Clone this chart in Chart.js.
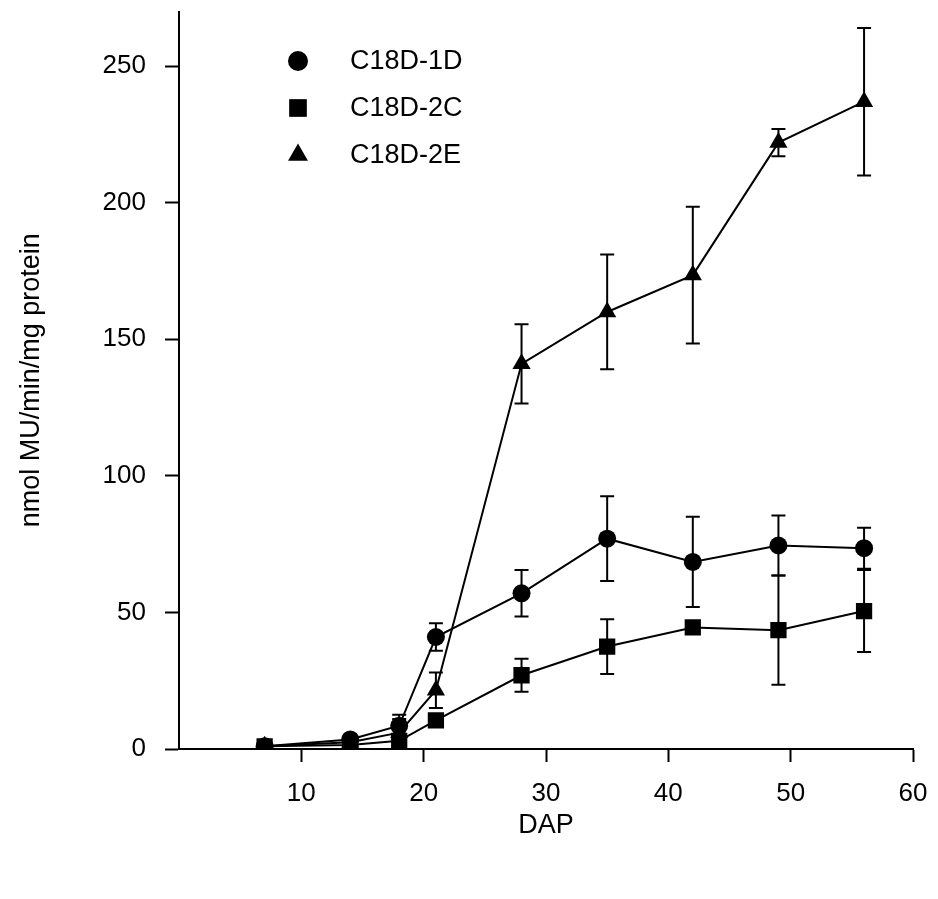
<!DOCTYPE html>
<html>
<head>
<meta charset="utf-8">
<script src="https://cdn.jsdelivr.net/npm/chart.js@4.4.1/dist/chart.umd.min.js"></script>
<style>
  html, body { margin: 0; padding: 0; background: #fff; }
  #chart { display: block; }
</style>
</head>
<body>
<canvas id="chart" width="938" height="899"></canvas>
<script>
const days = [7, 14, 18, 21, 28, 35, 42, 49, 56];

const line1dValues = [1, 3.5, 8.5, 41, 57, 77, 68.5, 74.5, 73.5];
const line1dErrors = [0, 0, 4, 5, 8.5, 15.5, 16.5, 11, 7.5];

const line2cValues = [1, 1.5, 3, 10.5, 27, 37.5, 44.5, 43.5, 50.5];
const line2cErrors = [0, 0, 1, 2, 6, 10, 1.5, 20, 15];

const line2eValues = [1, 2.5, 6, 21.5, 141, 160, 173.5, 222, 237];
const line2eErrors = [0, 0.5, 5, 6.5, 14.5, 21, 25, 5, 27];

const seriesNames = ["C18D-1D", "C18D-2C", "C18D-2E"];
const xTickValues = [10, 20, 30, 40, 50, 60];
const yTickValues = [0, 50, 100, 150, 200, 250];

const FONT = "'Liberation Sans', Arial, sans-serif";

const seriesList = [
  { name: seriesNames[0], values: line1dValues, errors: line1dErrors, style: "circle", radius: 9 },
  { name: seriesNames[1], values: line2cValues, errors: line2cErrors, style: "rect", radius: 11.5 },
  { name: seriesNames[2], values: line2eValues, errors: line2eErrors, style: "triangle", radius: 10.5 },
];

function toPoints(values) {
  return values.map((value, index) => ({ x: days[index], y: value }));
}

const errorBars = {
  id: "errorBars",
  beforeDatasetsDraw(chart) {
    const { ctx, scales: { x, y } } = chart;
    ctx.save();
    ctx.strokeStyle = "#000";
    ctx.lineWidth = 2;
    seriesList.forEach((series) => {
      series.values.forEach((value, index) => {
        const err = series.errors[index];
        if (!err) {
          return;
        }
        const px = x.getPixelForValue(days[index]);
        const top = y.getPixelForValue(value + err);
        const bottom = y.getPixelForValue(Math.max(0, value - err));
        ctx.beginPath();
        ctx.moveTo(px, top);
        ctx.lineTo(px, bottom);
        ctx.moveTo(px - 7, top);
        ctx.lineTo(px + 7, top);
        ctx.moveTo(px - 7, bottom);
        ctx.lineTo(px + 7, bottom);
        ctx.stroke();
      });
    });
    ctx.restore();
  },
};

function drawMarker(ctx, style, x, y, r) {
  ctx.beginPath();
  if (style === "circle") {
    ctx.arc(x, y, r, 0, Math.PI * 2);
  } else if (style === "rect") {
    const half = r * Math.SQRT1_2;
    ctx.rect(x - half, y - half, half * 2, half * 2);
  } else {
    ctx.moveTo(x, y - r);
    ctx.lineTo(x + r * 0.866, y + r * 0.5);
    ctx.lineTo(x - r * 0.866, y + r * 0.5);
    ctx.closePath();
  }
  ctx.fill();
}

const insetLegend = {
  id: "insetLegend",
  afterDraw(chart) {
    const { ctx } = chart;
    ctx.save();
    ctx.fillStyle = "#000";
    ctx.font = `27px ${FONT}`;
    ctx.textBaseline = "middle";
    ctx.textAlign = "left";
    seriesList.forEach((series, index) => {
      const rowY = 61 + index * 47;
      drawMarker(ctx, series.style, 298, rowY, series.radius + 1);
      ctx.fillText(series.name, 350, rowY + 1);
    });
    ctx.restore();
  },
};

new Chart(document.getElementById("chart"), {
  type: "line",
  data: {
    datasets: seriesList.map((series) => ({
      label: series.name,
      data: toPoints(series.values),
      borderColor: "#000",
      borderWidth: 2,
      backgroundColor: "#000",
      pointStyle: series.style,
      pointRadius: series.radius,
      pointBackgroundColor: "#000",
      pointBorderColor: "#000",
      pointBorderWidth: 0,
      tension: 0,
      fill: false,
    })),
  },
  options: {
    responsive: false,
    animation: false,
    events: [],
    layout: {
      padding: { left: 0, top: 8, right: 25, bottom: 0 },
    },
    plugins: {
      legend: { display: false },
      tooltip: { enabled: false },
    },
    scales: {
      x: {
        type: "linear",
        min: 0,
        max: 60,
        afterFit(scale) {
          scale.height = 150;
          scale.paddingLeft = 0;
          scale.paddingRight = 0;
        },
        afterBuildTicks(scale) {
          scale.ticks = xTickValues.map((value) => ({ value }));
        },
        border: { display: true, color: "#000", width: 2 },
        grid: {
          display: true,
          drawOnChartArea: false,
          drawTicks: true,
          tickLength: 13,
          tickWidth: 2,
          tickColor: "#000",
        },
        ticks: {
          color: "#000",
          padding: 16,
          maxRotation: 0,
          font: { family: FONT, size: 26 },
        },
        title: {
          display: true,
          text: "DAP",
          color: "#000",
          padding: { top: 0, bottom: 57 },
          font: { family: FONT, size: 27 },
        },
      },
      y: {
        type: "linear",
        min: 0,
        max: 270,
        afterFit(scale) {
          scale.width = 179;
          scale.paddingTop = 0;
          scale.paddingBottom = 0;
        },
        afterBuildTicks(scale) {
          scale.ticks = yTickValues.map((value) => ({ value }));
        },
        border: { display: true, color: "#000", width: 2 },
        grid: {
          display: true,
          drawOnChartArea: false,
          drawTicks: true,
          tickLength: 14,
          tickWidth: 2,
          tickColor: "#000",
        },
        ticks: {
          color: "#000",
          padding: 19,
          font: { family: FONT, size: 26 },
        },
        title: {
          display: true,
          text: "nmol MU/min/mg protein",
          color: "#000",
          padding: { top: 15, bottom: 0 },
          font: { family: FONT, size: 27 },
        },
      },
    },
  },
  plugins: [errorBars, insetLegend],
});
</script>
</body>
</html>
